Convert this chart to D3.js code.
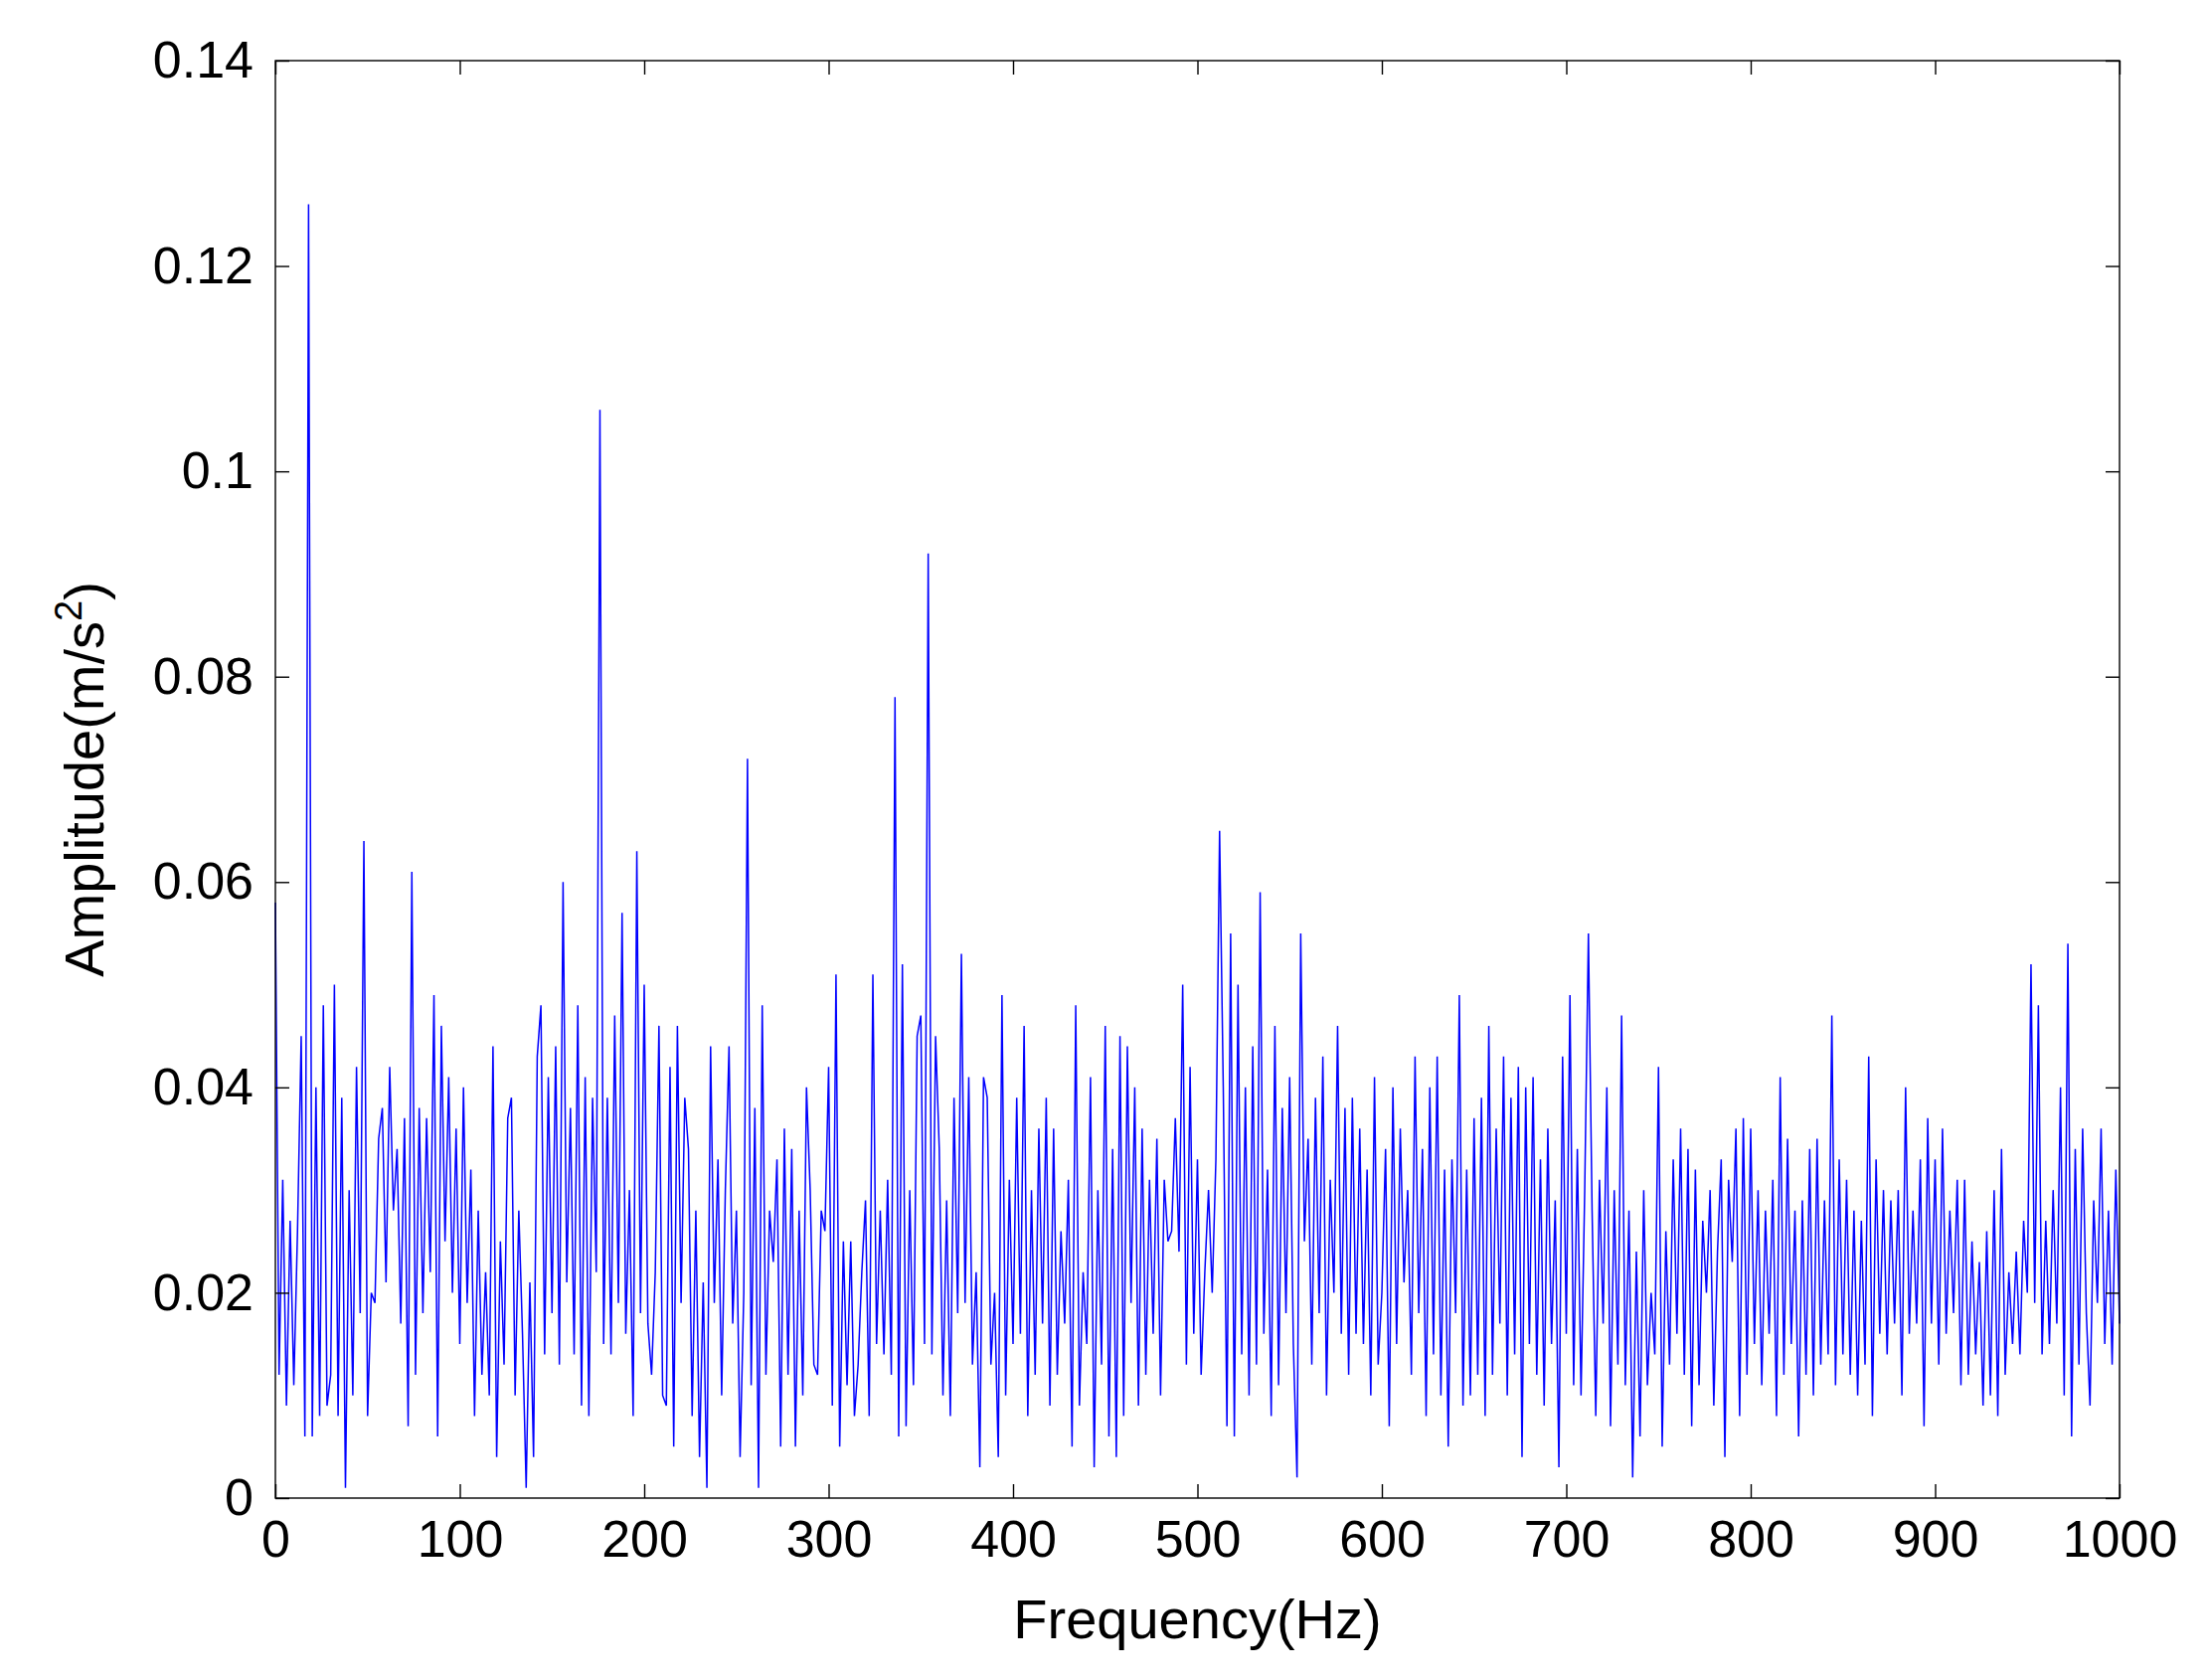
<!DOCTYPE html>
<html><head><meta charset="utf-8">
<script src="https://cdn.jsdelivr.net/npm/d3@7"></script>
<style>body{margin:0;background:#fff}svg{display:block}</style>
</head><body>
<script>
const freqStepHz = 2;
const amplitudes = [
.058,.012,.031,.009,.027,.011,.026,.045,.006,.126,
.006,.040,.008,.048,.009,.012,.050,.008,.039,.001,
.030,.010,.042,.018,.064,.008,.020,.019,.035,.038,
.021,.042,.028,.034,.017,.037,.007,.061,.012,.038,
.018,.037,.022,.049,.006,.046,.025,.041,.020,.036,
.015,.040,.019,.032,.008,.028,.012,.022,.010,.044,
.004,.025,.013,.037,.039,.010,.028,.016,.001,.021,
.004,.043,.048,.014,.041,.018,.044,.013,.060,.021,
.038,.014,.048,.009,.041,.008,.039,.022,.106,.015,
.039,.014,.047,.019,.057,.016,.030,.008,.063,.018,
.050,.017,.012,.022,.046,.010,.009,.042,.005,.046,
.019,.039,.034,.008,.028,.004,.021,.001,.044,.019,
.033,.010,.030,.044,.017,.028,.004,.020,.072,.011,
.038,.001,.048,.012,.028,.023,.033,.005,.036,.012,
.034,.005,.028,.010,.040,.030,.013,.012,.028,.026,
.042,.009,.051,.005,.025,.011,.025,.008,.013,.022,
.029,.008,.051,.015,.028,.014,.031,.012,.078,.006,
.052,.007,.030,.011,.045,.047,.015,.092,.014,.045,
.034,.010,.029,.008,.039,.018,.053,.019,.041,.013,
.022,.003,.041,.039,.013,.020,.004,.049,.010,.031,
.015,.039,.016,.046,.008,.030,.012,.036,.017,.039,
.009,.036,.012,.026,.017,.031,.005,.048,.009,.022,
.015,.041,.003,.030,.013,.046,.006,.034,.004,.045,
.008,.044,.019,.040,.009,.036,.012,.031,.016,.035,
.010,.031,.025,.026,.037,.024,.050,.013,.042,.016,
.033,.012,.022,.030,.020,.033,.065,.040,.007,.055,
.006,.050,.014,.040,.010,.044,.013,.059,.016,.032,
.008,.046,.011,.038,.018,.041,.015,.002,.055,.025,
.035,.013,.039,.018,.043,.010,.031,.020,.046,.016,
.038,.012,.039,.016,.036,.015,.032,.010,.041,.013,
.020,.034,.007,.040,.015,.036,.021,.030,.012,.043,
.018,.034,.008,.040,.014,.043,.010,.032,.005,.033,
.018,.049,.009,.032,.010,.037,.012,.039,.008,.046,
.012,.036,.017,.043,.010,.039,.014,.042,.004,.040,
.015,.041,.012,.033,.009,.036,.015,.029,.003,.043,
.016,.049,.011,.034,.010,.030,.055,.028,.008,.031,
.017,.040,.007,.030,.013,.047,.011,.028,.002,.024,
.006,.030,.011,.020,.014,.042,.005,.026,.013,.033,
.016,.036,.012,.034,.007,.032,.011,.027,.020,.030,
.009,.024,.033,.004,.031,.023,.036,.008,.037,.012,
.036,.015,.030,.011,.028,.016,.031,.008,.041,.012,
.035,.015,.028,.006,.029,.012,.034,.010,.035,.013,
.029,.014,.047,.011,.033,.014,.031,.012,.028,.010,
.027,.013,.043,.008,.033,.016,.030,.014,.029,.017,
.030,.010,.040,.016,.028,.017,.033,.007,.037,.017,
.033,.013,.036,.016,.028,.018,.031,.011,.031,.012,
.025,.014,.023,.009,.026,.010,.030,.008,.034,.012,
.022,.015,.024,.014,.027,.020,.052,.019,.048,.014,
.027,.015,.030,.017,.040,.010,.054,.006,.034,.013,
.036,.018,.009,.029,.019,.036,.015,.028,.013,.032,
.017];
const xTicks = [0,100,200,300,400,500,600,700,800,900,1000];
const yTicks = [0,0.02,0.04,0.06,0.08,0.1,0.12,0.14];
const xLabel = "Frequency(Hz)";
const yLabelMain = "Amplitude(m/s";

const W=2222,H=1690, m={l:277,t:61,r:2222-2132,b:1690-1507};
const iw=W-m.l-m.r, ih=H-m.t-m.b;
const svg=d3.select("body").append("svg").attr("width",W).attr("height",H);
const g=svg.append("g").attr("transform",`translate(${m.l},${m.t})`);
const x=d3.scaleLinear().domain([0,1000]).range([0,iw]);
const y=d3.scaleLinear().domain([0,0.14]).range([ih,0]);
const data=amplitudes.map((v,i)=>({f:i*freqStepHz,v}));
g.append("path").datum(data).attr("fill","none").attr("stroke","#0000ff").attr("stroke-width",1.5)
 .attr("d",d3.line().x(d=>x(d.f)).y(d=>y(d.v)));
const font="'Liberation Sans',Arial,sans-serif";
function style(sel){sel.select(".domain").remove();sel.selectAll("line").attr("stroke","#000").attr("stroke-width",1.4);
 sel.selectAll("text").attr("font-family",font).attr("font-size",52).attr("fill","#000");}
g.append("g").attr("transform",`translate(0,${ih})`).call(d3.axisBottom(x).tickValues(xTicks).tickSize(-14).tickPadding(22).tickFormat(d3.format("d"))).call(style);
g.append("g").call(d3.axisTop(x).tickValues(xTicks).tickSize(-14).tickFormat("")).call(style);
g.append("g").call(d3.axisLeft(y).tickValues(yTicks).tickSize(-14).tickPadding(22).tickFormat(d=>d===0?"0":String(+d.toFixed(2)))).call(style);
g.append("g").attr("transform",`translate(${iw},0)`).call(d3.axisRight(y).tickValues(yTicks).tickSize(-14).tickFormat("")).call(style);
g.append("rect").attr("width",iw).attr("height",ih).attr("fill","none").attr("stroke","#000").attr("stroke-width",1.4);
svg.append("text").attr("x",m.l+iw/2).attr("y",1648).attr("text-anchor","middle").attr("font-family",font).attr("font-size",56).text(xLabel);
const yt=svg.append("text").attr("transform",`translate(104,${m.t+ih/2}) rotate(-90)`).attr("text-anchor","middle").attr("font-family",font).attr("font-size",56);
yt.append("tspan").text(yLabelMain);
yt.append("tspan").attr("dy",-22).attr("font-size",38).text("2");
yt.append("tspan").attr("dy",22).text(")");
</script>
</body></html>
